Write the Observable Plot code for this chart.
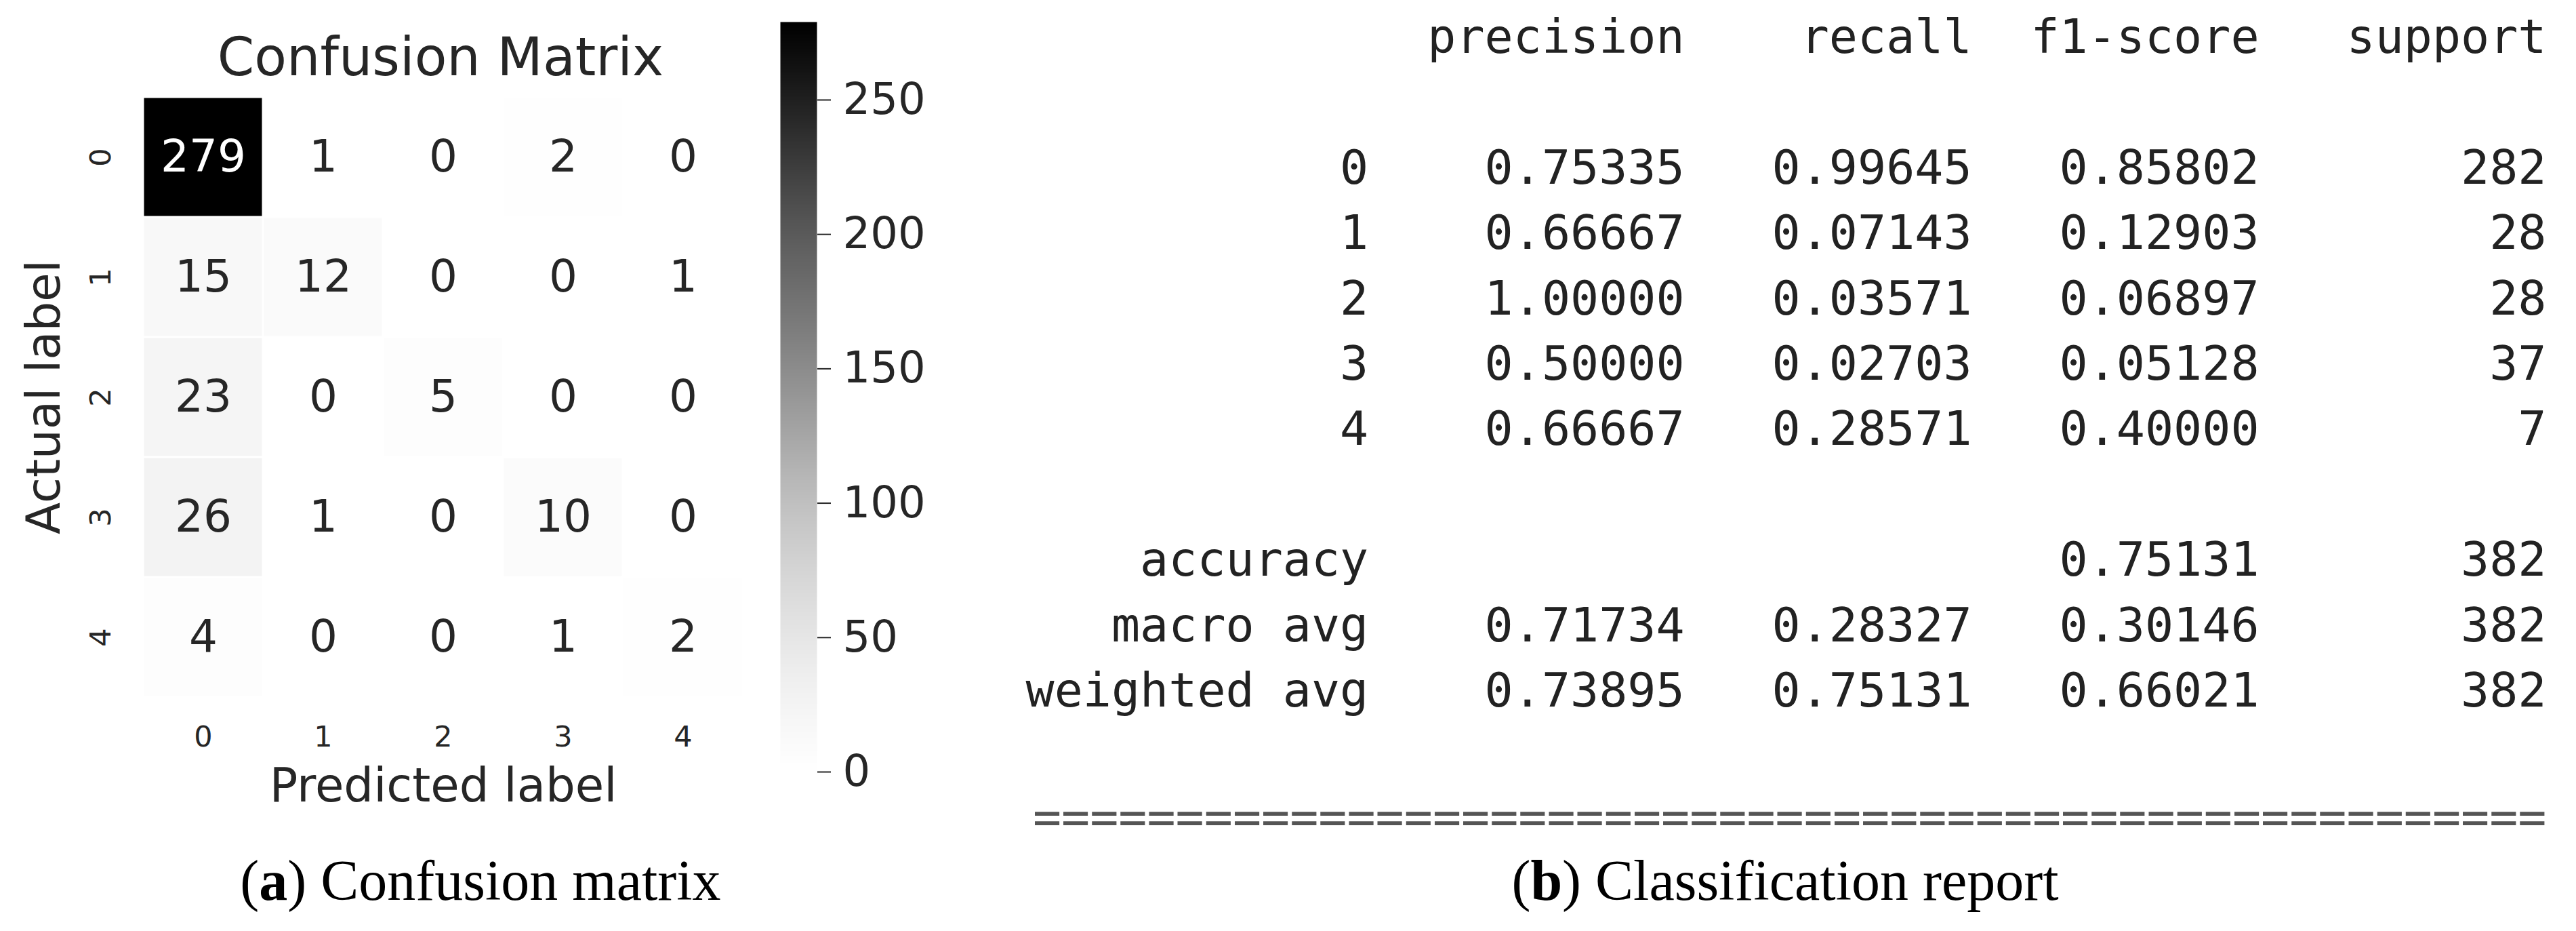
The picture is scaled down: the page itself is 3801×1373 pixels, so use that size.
<!DOCTYPE html>
<html>
<head>
<meta charset="utf-8">
<script src="https://cdn.jsdelivr.net/npm/d3@7"></script>
<script src="https://cdn.jsdelivr.net/npm/@observablehq/plot@0.6"></script>
<style>
  html, body { margin: 0; padding: 0; background: #fff; }
  #page { position: relative; width: 3801px; height: 1373px; overflow: hidden; background: #fff; }
  #page svg { position: absolute; max-width: none; background: transparent; }
  .cap { position: absolute; font-family: "Liberation Serif", "DejaVu Serif", serif; font-size: 84px; color: #000;
         white-space: nowrap; transform: translate(-50%, -50%); line-height: 1; }
</style>
</head>
<body>
<div id="page"></div>
<script>
// ---------- data ----------
const classLabels = ["0", "1", "2", "3", "4"];
const confusion = [
  [279, 1, 0, 2, 0],
  [15, 12, 0, 0, 1],
  [23, 0, 5, 0, 0],
  [26, 1, 0, 10, 0],
  [4, 0, 0, 1, 2]
];
const colorbarTicks = [0, 50, 100, 150, 200, 250];

const reportHeaders = ["precision", "recall", "f1-score", "support"];
const precision = [0.75335, 0.66667, 1.00000, 0.50000, 0.66667];
const recall    = [0.99645, 0.07143, 0.03571, 0.02703, 0.28571];
const f1score   = [0.85802, 0.12903, 0.06897, 0.05128, 0.40000];
const support   = [282, 28, 28, 37, 7];
const avgLabels    = ["accuracy", "macro avg", "weighted avg"];
const avgPrecision = [null, 0.71734, 0.73895];
const avgRecall    = [null, 0.28327, 0.75131];
const avgF1        = [0.75131, 0.30146, 0.66021];
const avgSupport   = [382, 382, 382];

const page = document.getElementById("page");
const ink = "#262626";
const vmax = d3.max(confusion.flat());

// ---------- confusion matrix heatmap ----------
const cells = classLabels.flatMap((a, i) =>
  classLabels.map((p, j) => ({actual: a, predicted: p, count: confusion[i][j]})));

const heat = Plot.plot({
  width: 1100, height: 1373,
  marginLeft: 211, marginRight: 4, marginTop: 142, marginBottom: 345,
  style: {fontFamily: "DejaVu Sans", color: ink, background: "transparent"},
  x: {type: "band", domain: classLabels, padding: 0, axis: null},
  y: {type: "band", domain: classLabels, padding: 0, axis: null},
  color: {type: "linear", scheme: "greys", domain: [0, vmax]},
  marks: [
    Plot.cell(cells, {x: "predicted", y: "actual", fill: "count", inset: 1.5}),
    Plot.text(cells, {x: "predicted", y: "actual", text: d => String(d.count),
      filter: d => d.count > vmax / 2, fill: "#ffffff", fontSize: 66}),
    Plot.text(cells, {x: "predicted", y: "actual", text: d => String(d.count),
      filter: d => d.count <= vmax / 2, fill: ink, fontSize: 66}),
    Plot.axisX({anchor: "bottom", tickSize: 0, tickPadding: 42, fontSize: 43, label: null}),
    Plot.text(classLabels, {y: d => d, text: d => d, frameAnchor: "left", dx: -62,
      rotate: -90, textAnchor: "middle", lineAnchor: "middle", fontSize: 43, fill: ink}),
    Plot.text(["Confusion Matrix"], {text: d => d, frameAnchor: "top", dy: -56, dx: -4,
      lineAnchor: "middle", fontSize: 78, fill: ink}),
    Plot.text(["Predicted label"], {text: d => d, frameAnchor: "bottom", dy: 131,
      lineAnchor: "middle", fontSize: 69, fill: ink}),
    Plot.text(["Actual label"], {text: d => d, frameAnchor: "left", dx: -146,
      rotate: -90, lineAnchor: "middle", textAnchor: "middle", fontSize: 69, fill: ink})
  ]
});
heat.style.left = "0px"; heat.style.top = "0px";
page.appendChild(heat);

// ---------- colorbar ----------
const cbar = Plot.plot({
  width: 300, height: 1373,
  marginLeft: 51, marginRight: 195, marginTop: 32, marginBottom: 1373 - 1138,
  style: {fontFamily: "DejaVu Sans", color: ink, background: "transparent"},
  x: {domain: [0, 1], axis: null},
  y: {domain: [0, vmax], axis: null},
  color: {type: "linear", scheme: "greys", domain: [0, vmax]},
  marks: [
    Plot.raster({x1: 0, x2: 1, y1: 0, y2: vmax, width: 1, height: 560,
      fill: (x, y) => y, imageRendering: "pixelated"}),
    Plot.axisY(colorbarTicks, {anchor: "right", tickSize: 20, tickPadding: 18,
      fontSize: 64, label: null, tickFormat: d => String(d), strokeWidth: 2})
  ]
});
cbar.style.left = "1100px"; cbar.style.top = "0px";
page.appendChild(cbar);

// ---------- classification report ----------
const fmt = d3.format(".5f");
const colEnds = [12, 23, 33, 43, 53]; // character column where each field ends
const reportRows = [];
reportHeaders.forEach((h, k) => reportRows.push({line: 0, end: colEnds[k + 1], text: h}));
classLabels.forEach((c, i) => {
  const line = 2 + i;
  reportRows.push({line, end: colEnds[0], text: c});
  reportRows.push({line, end: colEnds[1], text: fmt(precision[i])});
  reportRows.push({line, end: colEnds[2], text: fmt(recall[i])});
  reportRows.push({line, end: colEnds[3], text: fmt(f1score[i])});
  reportRows.push({line, end: colEnds[4], text: String(support[i])});
});
avgLabels.forEach((lab, i) => {
  const line = 8 + i;
  reportRows.push({line, end: colEnds[0], text: lab});
  if (avgPrecision[i] != null) reportRows.push({line, end: colEnds[1], text: fmt(avgPrecision[i])});
  if (avgRecall[i] != null) reportRows.push({line, end: colEnds[2], text: fmt(avgRecall[i])});
  reportRows.push({line, end: colEnds[3], text: fmt(avgF1[i])});
  reportRows.push({line, end: colEnds[4], text: String(avgSupport[i])});
});
const separator = [{line: 12, end: colEnds[4], text: "=".repeat(colEnds[4])}];

const report = Plot.plot({
  width: 2401, height: 1373,
  marginLeft: 110, marginRight: 44, marginTop: 55, marginBottom: 161,
  style: {fontFamily: "DejaVu Sans Mono", color: "#222", background: "transparent"},
  x: {domain: [0, colEnds[4]], axis: null},
  y: {domain: [0, 12], reverse: true, axis: null},
  marks: [
    Plot.text(reportRows, {x: "end", y: "line", text: "text", textAnchor: "end",
      lineAnchor: "middle", fontSize: 70, fill: "#222"}),
    Plot.text(separator, {x: "end", y: "line", text: "text", textAnchor: "end",
      lineAnchor: "middle", fontSize: 70, fill: "#555", dy: -6})
  ]
});
report.style.left = "1400px"; report.style.top = "0px";
page.appendChild(report);

// ---------- sub-captions ----------
const capA = document.createElement("div");
capA.className = "cap"; capA.style.left = "709px"; capA.style.top = "1299px";
capA.innerHTML = "(<b>a</b>) Confusion matrix";
page.appendChild(capA);
const capB = document.createElement("div");
capB.className = "cap"; capB.style.left = "2634px"; capB.style.top = "1299px";
capB.innerHTML = "(<b>b</b>) Classification report";
page.appendChild(capB);
</script>
</body>
</html>
